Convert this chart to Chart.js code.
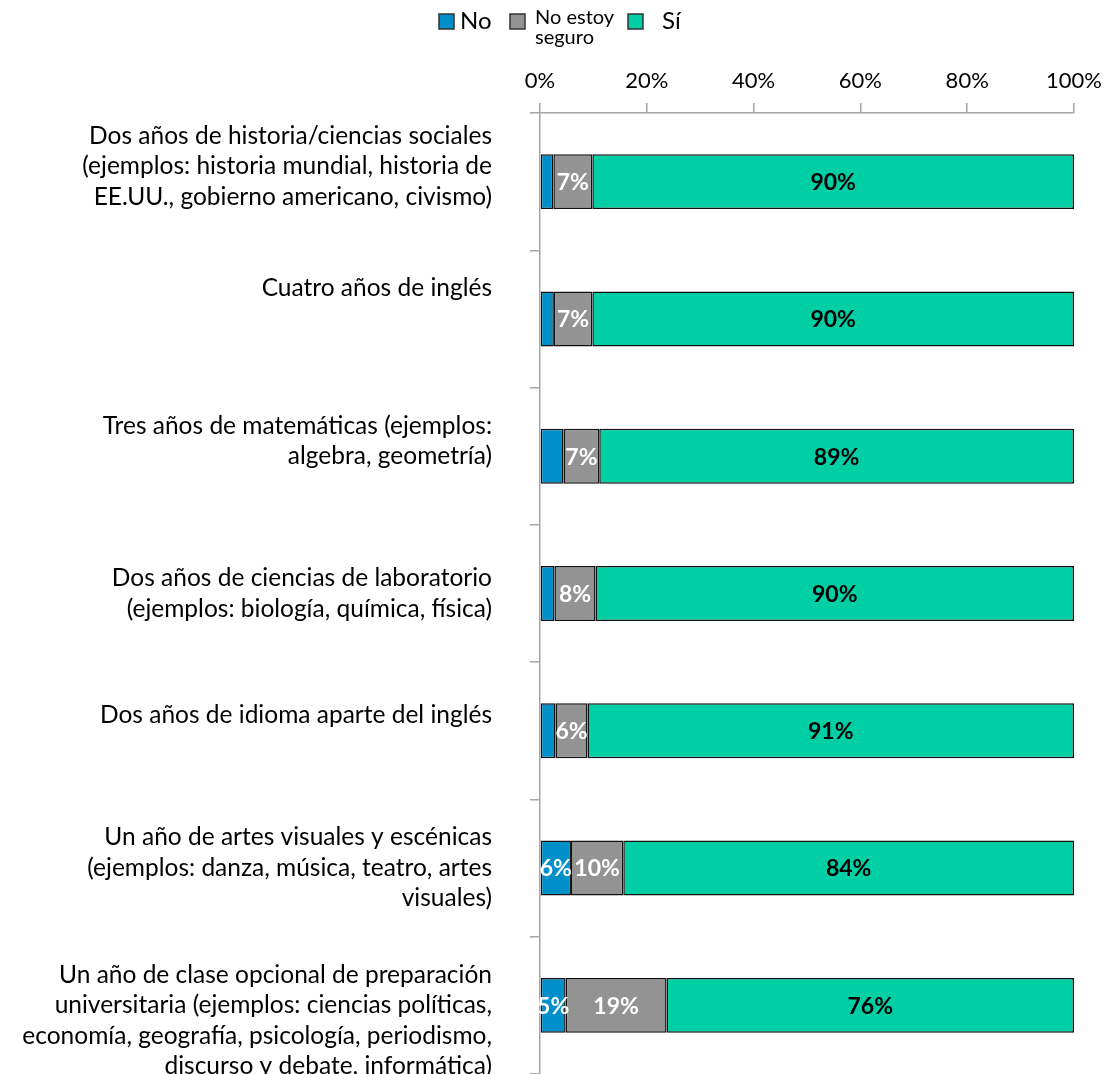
<!DOCTYPE html>
<html>
<head>
<meta charset="utf-8">
<script src="https://cdn.jsdelivr.net/npm/chart.js@4.4.1/dist/chart.umd.min.js"></script>
<style>
  body { margin: 0; background: #fff; }
  #wrap { width: 1110px; height: 1074px; position: relative; }
</style>
</head>
<body>
<div id="wrap"><canvas id="myChart"></canvas></div>
<script>
// category labels (line breaks as in the original; "" lines nudge the label up/down)
const categories = [
  ["Dos años de historia/ciencias sociales", "(ejemplos: historia mundial, historia de", "EE.UU., gobierno americano, civismo)", ""],
  ["Cuatro años de inglés", "", ""],
  ["Tres años de matemáticas (ejemplos:", "algebra, geometría)", ""],
  ["Dos años de ciencias de laboratorio", "(ejemplos: biología, química, física)"],
  ["Dos años de idioma aparte del inglés", ""],
  ["Un año de artes visuales y escénicas", "(ejemplos: danza, música, teatro, artes", "visuales)"],
  ["", "Un año de clase opcional de preparación", "universitaria (ejemplos: ciencias políticas,", "economía, geografía, psicología, periodismo,", "discurso y debate, informática)"]
];

const seriesNames = ["No", ["No estoy", "seguro"], "Sí"];
const noValues     = [2.5, 2.6, 4.4, 2.7, 2.9, 5.8, 4.8];
const unsureValues = [7.3, 7.2, 6.7, 7.7, 6.0, 9.8, 18.9];
const yesValues    = [90.2, 90.2, 88.9, 89.6, 91.1, 84.4, 76.3];

const xTicks = [0, 20, 40, 60, 80, 100];

const colors = ["#008FC8", "#939393", "#00CFA6"];
const labelColors = ["#ffffff", "#ffffff", "#000000"];

const FONT = "Lato, 'Open Sans', sans-serif";

// value labels inside the bars
const barLabels = {
  id: "barLabels",
  afterDatasetsDraw(chart) {
    const ctx = chart.ctx;
    ctx.save();
    ctx.font = "bold 23px " + FONT;
    ctx.textAlign = "center";
    ctx.textBaseline = "middle";
    chart.data.datasets.forEach((ds, di) => {
      const meta = chart.getDatasetMeta(di);
      meta.data.forEach((bar, i) => {
        const v = Math.round(ds.data[i]);
        if (v < 5) return;
        ctx.fillStyle = labelColors[di];
        ctx.fillText(v + "%", (bar.x + bar.base) / 2, bar.y + 1);
      });
    });
    ctx.restore();
  }
};

// legend drawn by hand so the two-line entry works
const topLegend = {
  id: "topLegend",
  afterDraw(chart) {
    const ctx = chart.ctx;
    ctx.save();
    ctx.textBaseline = "middle";
    ctx.textAlign = "left";
    const xs = [439, 510, 628];
    chart.data.datasets.forEach((ds, di) => {
      const x = xs[di];
      ctx.fillStyle = colors[di];
      ctx.fillRect(x, 14, 15, 15);
      ctx.strokeStyle = "#333";
      ctx.lineWidth = 1.5;
      ctx.strokeRect(x, 14, 15, 15);
      ctx.fillStyle = "#000";
      const name = seriesNames[di];
      if (Array.isArray(name)) {
        ctx.font = "20px " + FONT;
        ctx.fillText(name[0], x + 25, 18);
        ctx.fillText(name[1], x + 25, 38);
      } else {
        ctx.font = "24px " + FONT;
        ctx.fillText(name, x + 21 + (di === 2 ? 13 : 0), 21);
      }
    });
    ctx.restore();
  }
};

const ctx = document.getElementById("myChart");

new Chart(ctx, {
  type: "bar",
  data: {
    labels: categories,
    datasets: [
      { label: "No", data: noValues },
      { label: "No estoy seguro", data: unsureValues },
      { label: "Sí", data: yesValues }
    ].map((d, i) => ({
      ...d,
      backgroundColor: colors[i],
      borderColor: "#111",
      borderWidth: 1.5,
      borderSkipped: false,
      barPercentage: 0.4,
      categoryPercentage: 1.0
    }))
  },
  options: {
    indexAxis: "y",
    responsive: true,
    maintainAspectRatio: false,
    animation: false,
    layout: { padding: { top: 50, right: 36, bottom: 0, left: 0 } },
    plugins: {
      legend: { display: false },
      tooltip: { enabled: false }
    },
    scales: {
      x: {
        position: "top",
        stacked: true,
        min: 0,
        max: 100,
        afterBuildTicks: (scale) => {
          scale.ticks = xTicks.map((v) => ({ value: v }));
        },
        afterFit: (scale) => {
          scale.height = 63;
          scale.paddingLeft = 0;
          scale.paddingRight = 0;
        },
        ticks: {
          color: "#000",
          font: { family: FONT, size: 22 },
          padding: 9,
          callback: (v) => v + "%"
        },
        grid: {
          drawOnChartArea: false,
          drawTicks: true,
          tickLength: 10,
          color: "#A6A6A6",
          lineWidth: 1.5
        },
        border: { color: "#A6A6A6", width: 1.5 }
      },
      y: {
        stacked: true,
        afterFit: (scale) => {
          scale.width = 540;
          scale.paddingTop = 0;
          scale.paddingBottom = 0;
        },
        ticks: {
          autoSkip: false,
          color: "#000",
          font: { family: FONT, size: 24.5, lineHeight: "30.5px" },
          padding: 38
        },
        grid: {
          offset: true,
          drawOnChartArea: false,
          drawTicks: true,
          tickLength: 10,
          color: "#A6A6A6",
          lineWidth: 1.5
        },
        border: { color: "#A6A6A6", width: 1.5 }
      }
    }
  },
  plugins: [barLabels, topLegend]
});
</script>
</body>
</html>
